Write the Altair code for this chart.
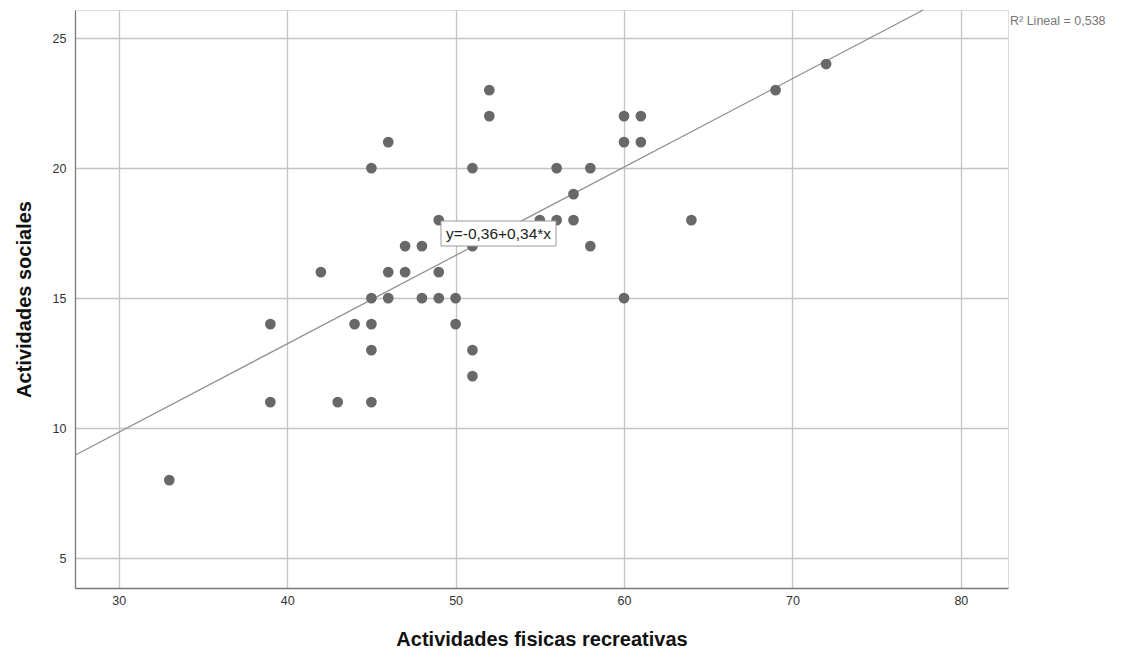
import altair as alt
import pandas as pd

# Data
fisicas = [33, 39, 39, 42, 43, 44, 45, 45, 45, 45, 45, 46, 46, 46, 47, 47, 48, 48,
           49, 49, 49, 50, 50, 51, 51, 51, 51, 52, 52, 55, 56, 56, 57, 57, 58, 58,
           60, 60, 60, 61, 61, 64, 69, 72]
sociales = [8, 14, 11, 16, 11, 14, 20, 15, 14, 13, 11, 21, 16, 15, 17, 16, 17, 15,
            18, 16, 15, 15, 14, 20, 17, 13, 12, 23, 22, 18, 20, 18, 19, 18, 20, 17,
            22, 21, 15, 22, 21, 18, 23, 24]

x_ticks = [30, 40, 50, 60, 70, 80]
y_ticks = [5, 10, 15, 20, 25]
x_domain = [27.4, 82.8]
y_domain = [3.85, 26.08]

intercept = -0.36
slope = 0.34
fit_label = "y=-0,36+0,34*x"
r2_label = "R\u00b2 Lineal = 0,538"

df = pd.DataFrame({"x": fisicas, "y": sociales})
# fitted line over the visible part of the plot (ends where it leaves the top)
x_end = min(x_domain[1], (y_domain[1] - intercept) / slope)
line_x = [x_domain[0], x_end]
line_df = pd.DataFrame({"x": line_x, "y": [intercept + slope * v for v in line_x]})

FONT = "Liberation Sans"

xscale = alt.Scale(domain=x_domain, nice=False, zero=False)
yscale = alt.Scale(domain=y_domain, nice=False, zero=False)

xaxis = alt.Axis(values=x_ticks, title="Actividades fisicas recreativas",
                 grid=True, gridColor="#c4c4c4", gridWidth=1.3,
                 domainColor="#7a7a7a", domainWidth=1.3, ticks=False,
                 labelFont=FONT, labelFontSize=12.5, labelColor="#333333",
                 labelPadding=6, titleFont=FONT, titleFontSize=20,
                 titleFontWeight="bold", titleColor="#111111", titlePadding=23)
yaxis = alt.Axis(values=y_ticks, title="Actividades sociales",
                 grid=True, gridColor="#c4c4c4", gridWidth=1.3,
                 domainColor="#7a7a7a", domainWidth=1.3, ticks=False,
                 labelFont=FONT, labelFontSize=12.5, labelColor="#333333",
                 labelPadding=9, titleFont=FONT, titleFontSize=20,
                 titleFontWeight="bold", titleColor="#111111", titlePadding=18)

points = alt.Chart(df).mark_circle(size=115, color="#686868", opacity=1).encode(
    x=alt.X("x:Q", scale=xscale, axis=xaxis),
    y=alt.Y("y:Q", scale=yscale, axis=yaxis),
)

fit = alt.Chart(line_df).mark_line(color="#8c8c8c", strokeWidth=1.2).encode(
    x=alt.X("x:Q", scale=xscale),
    y=alt.Y("y:Q", scale=yscale),
)

box = alt.Chart(pd.DataFrame({"a": [0]})).mark_rect(
    fill="white", stroke="#9a9a9a", strokeWidth=1).encode(
    x=alt.value(366), x2=alt.value(481), y=alt.value(211), y2=alt.value(236))

box_text = alt.Chart(pd.DataFrame({"t": [fit_label]})).mark_text(
    font=FONT, fontSize=15.5, color="#222222", align="center", baseline="middle").encode(
    x=alt.value(423.5), y=alt.value(224), text="t:N")

r2_text = alt.Chart(pd.DataFrame({"t": [r2_label]})).mark_text(
    font=FONT, fontSize=12.5, color="#777777", align="left", baseline="middle").encode(
    x=alt.value(935), y=alt.value(11), text="t:N")

chart = alt.layer(fit, points, box, box_text, r2_text).properties(
    width=933, height=578,
    autosize=alt.AutoSizeParams(type="none"),
    padding={"left": 67, "top": 2, "right": 116, "bottom": 62},
).configure_view(stroke="transparent", strokeWidth=0).configure(background="white")

chart.save("out.html", embed_options={"renderer": "svg", "actions": False})
